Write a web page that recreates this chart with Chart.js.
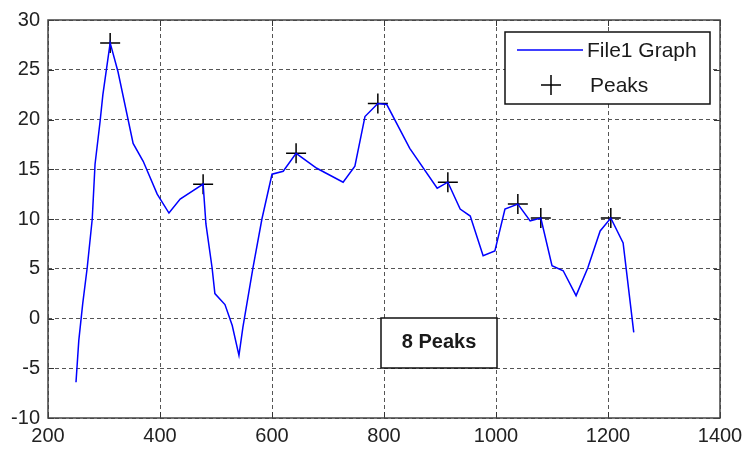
<!DOCTYPE html>
<html>
<head>
<meta charset="utf-8">
<script src="https://cdn.jsdelivr.net/npm/chart.js@4.4.0/dist/chart.umd.min.js"></script>
<style>
  body { margin: 0; background: #fff; }
  #js--chart { display: block; }
</style>
</head>
<body>
<canvas id="js--chart" width="744" height="451"></canvas>
<script>
const xValues = [250, 255, 262, 270, 279, 284, 293, 298, 311, 325, 352, 370, 395, 416, 436, 477,
    482, 493, 498, 516, 529, 541, 548, 566, 582, 600, 620, 643, 680, 727, 748, 766, 789, 805,
    846, 895, 914, 936, 954, 977, 998, 1016, 1039, 1061, 1080, 1100, 1120, 1143, 1164, 1186,
    1205, 1227, 1246];
const yValues = [-6.4, -2.2, 1.5, 5.1, 10, 15.5, 19.8, 22.5, 27.7, 24.8, 17.6, 15.8, 12.5, 10.6, 12, 13.5,
    9.5, 5.1, 2.5, 1.4, -0.7, -3.7, -0.9, 5.1, 10, 14.5, 14.8, 16.6, 15.1, 13.7, 15.3, 20.3, 21.6, 21.5,
    17.1, 13.1, 13.7, 11, 10.3, 6.3, 6.8, 11, 11.5, 9.8, 10.1, 5.3, 4.8, 2.3, 5.1, 8.8,
    10.1, 7.6, -1.4];

const peakX = [311, 477, 643, 789, 914, 1039, 1080, 1205];
const peakY = [27.7, 13.5, 16.6, 21.6, 13.7, 11.5, 10.1, 10.1];

const xTicks = [200, 400, 600, 800, 1000, 1200, 1400];
const yTicks = [-10, -5, 0, 5, 10, 15, 20, 25, 30];

const seriesLabels = ["File1 Graph", "Peaks"];
const boxText = "8 Peaks";

const lineData = xValues.map(function (x, i) { return { x: x, y: yValues[i] }; });
const peakData = peakX.map(function (x, i) { return { x: x, y: peakY[i] }; });

const fontName = "'Liberation Sans', Arial, sans-serif";

// rand om de grafiek, tickjes naar binnen, legenda en tekstvak
const matlabBox = {
    id: "matlabBox",
    afterDraw: function (chart) {
        const ctx = chart.ctx;
        const a = chart.chartArea;
        const xs = chart.scales.x;
        const ys = chart.scales.y;
        ctx.save();

        // tickjes
        ctx.strokeStyle = "#333";
        ctx.lineWidth = 1;
        ctx.beginPath();
        xTicks.forEach(function (t) {
            const px = Math.round(xs.getPixelForValue(t)) + 0.5;
            ctx.moveTo(px, a.bottom); ctx.lineTo(px, a.bottom - 6);
            ctx.moveTo(px, a.top); ctx.lineTo(px, a.top + 6);
        });
        yTicks.forEach(function (t) {
            const py = Math.round(ys.getPixelForValue(t)) + 0.5;
            ctx.moveTo(a.left, py); ctx.lineTo(a.left + 6, py);
            ctx.moveTo(a.right, py); ctx.lineTo(a.right - 6, py);
        });
        ctx.stroke();

        // rand
        ctx.strokeStyle = "#444";
        ctx.lineWidth = 1.5;
        ctx.strokeRect(a.left, a.top, a.right - a.left, a.bottom - a.top);

        // legenda
        ctx.fillStyle = "#fff";
        ctx.fillRect(505, 32, 205, 72);
        ctx.strokeStyle = "#111";
        ctx.lineWidth = 1.5;
        ctx.strokeRect(505, 32, 205, 72);

        ctx.strokeStyle = "#0000ff";
        ctx.lineWidth = 1.5;
        ctx.beginPath();
        ctx.moveTo(517, 50); ctx.lineTo(583, 50);
        ctx.stroke();

        ctx.strokeStyle = "#000";
        ctx.beginPath();
        ctx.moveTo(541, 85); ctx.lineTo(561, 85);
        ctx.moveTo(551, 75); ctx.lineTo(551, 95);
        ctx.stroke();

        ctx.fillStyle = "#1a1a1a";
        ctx.font = "21px " + fontName;
        ctx.textBaseline = "middle";
        ctx.textAlign = "left";
        ctx.fillText(seriesLabels[0], 587, 51);
        ctx.fillText(seriesLabels[1], 590, 86);

        // tekstvak
        ctx.fillStyle = "#fff";
        ctx.fillRect(381, 318, 116, 50);
        ctx.strokeStyle = "#111";
        ctx.strokeRect(381, 318, 116, 50);
        ctx.fillStyle = "#1a1a1a";
        ctx.font = "bold 20px " + fontName;
        ctx.textAlign = "center";
        ctx.fillText(boxText, 439, 342);

        ctx.restore();
    }
};

const config = {
    type: "scatter",
    data: {
        datasets: [
            {
                label: seriesLabels[0],
                data: lineData,
                showLine: true,
                borderColor: "#0000ff",
                borderWidth: 1.5,
                pointRadius: 0,
                tension: 0
            },
            {
                label: seriesLabels[1],
                data: peakData,
                showLine: false,
                pointStyle: "cross",
                pointRadius: 10,
                borderColor: "#000",
                borderWidth: 1.5
            }
        ]
    },
    options: {
        responsive: false,
        animation: false,
        events: [],
        layout: { padding: { top: 18, right: 24, left: 0, bottom: 0 } },
        plugins: {
            legend: { display: false },
            tooltip: { enabled: false }
        },
        scales: {
            x: {
                type: "linear",
                min: 200,
                max: 1400,
                afterBuildTicks: function (scale) {
                    scale.ticks = xTicks.map(function (v) { return { value: v }; });
                },
                afterFit: function (scale) {
                    scale.height = 33;
                    scale.paddingRight = 0;
                },
                ticks: {
                    padding: 6,
                    color: "#222",
                    font: { family: fontName, size: 20 },
                    maxRotation: 0,
                    callback: function (value) { return String(value); }
                },
                grid: { color: "#555", lineWidth: 1, drawTicks: false },
                border: { display: false, dash: [4, 3] }
            },
            y: {
                type: "linear",
                min: -10,
                max: 30,
                afterBuildTicks: function (scale) {
                    scale.ticks = yTicks.map(function (v) { return { value: v }; });
                },
                afterFit: function (scale) { scale.width = 48; },
                ticks: {
                    padding: 8,
                    color: "#222",
                    font: { family: fontName, size: 20 },
                    callback: function (value) { return String(value); }
                },
                grid: { color: "#555", lineWidth: 1, drawTicks: false },
                border: { display: false, dash: [4, 3] }
            }
        }
    },
    plugins: [matlabBox]
};

new Chart(document.getElementById("js--chart"), config);
</script>
</body>
</html>
